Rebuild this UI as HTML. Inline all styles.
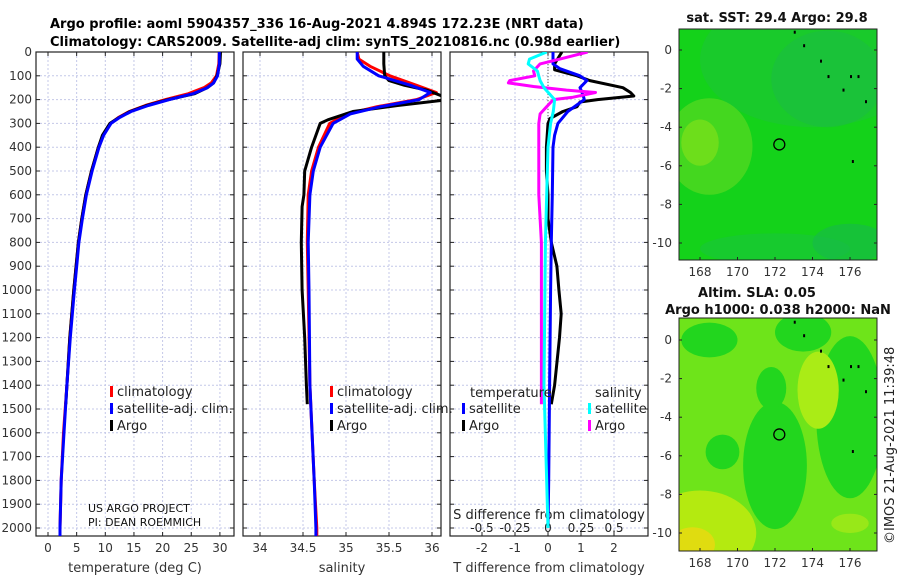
<!DOCTYPE html>
<html><head><meta charset="utf-8"><style>
body{margin:0;background:#fff;width:900px;height:580px;overflow:hidden}
svg text{font-family:"DejaVu Sans","Liberation Sans",sans-serif}
</style></head><body>
<svg id="fig" width="900" height="580" xmlns="http://www.w3.org/2000/svg">
<text x="50" y="28" font-size="13" font-weight="bold">Argo profile: aoml 5904357_336 16-Aug-2021 4.894S 172.23E (NRT data)</text>
<text x="50" y="46" font-size="13" font-weight="bold">Climatology: CARS2009. Satellite-adj clim: synTS_20210816.nc (0.98d earlier)</text>
<g id="maps"></g>
<g id="panels"></g>
</svg>
<script>
// depth grid
const depthTicks=[0,100,200,300,400,500,600,700,800,900,1000,1100,1200,1300,1400,1500,1600,1700,1800,1900,2000];
// temperature
const tDepth=[0,50,100,130,150,175,200,225,250,275,300,350,400,500,600,700,800,900,1000,1200,1400,1600,1800,2000,2050];
const tClim=[29.9,29.8,29.4,28.5,27.2,24.5,20.5,17.0,14.2,12.3,10.9,9.6,8.8,7.6,6.6,5.9,5.3,4.9,4.5,3.8,3.3,2.7,2.3,2.1,2.1];
const tSat=[29.9,29.9,29.6,28.9,27.8,25.3,21.2,17.5,14.5,12.5,11.0,9.7,8.9,7.7,6.7,6.0,5.4,5.0,4.6,3.9,3.3,2.8,2.3,2.1,2.1];
const tArgoDepth=[0,50,100,130,150,175,200,225,250,275,300,350,400,500,600,700,800,900,1000,1200,1400,1480];
const tArgo=[30.1,30.0,29.5,28.9,27.8,25.6,21.0,17.2,14.3,12.4,10.8,9.5,8.8,7.6,6.6,5.9,5.3,4.9,4.5,3.8,3.3,3.1];
// salinity
const sDepth=[0,30,60,100,140,170,200,230,260,300,400,500,600,800,1000,1400,1800,2000,2050];
const sClim=[35.13,35.15,35.28,35.51,35.82,36.05,35.82,35.36,35.01,34.81,34.68,34.60,34.56,34.55,34.56,34.58,34.63,34.66,34.66];
const sSat=[35.13,35.13,35.2,35.38,35.75,35.98,35.85,35.4,35.05,34.85,34.70,34.62,34.58,34.56,34.57,34.58,34.63,34.65,34.65];
const sArgoDepth=[0,50,100,120,140,160,190,200,225,250,285,300,400,500,600,650,800,1000,1200,1400,1480];
const sArgo=[35.44,35.44,35.45,35.5,35.68,35.94,36.15,36.2,35.6,35.08,34.79,34.7,34.6,34.52,34.51,34.49,34.48,34.49,34.52,34.54,34.55];
// differences
const dTArgoDepth=[0,50,75,100,120,150,170,185,200,210,230,250,280,300,400,500,600,700,800,900,1000,1100,1200,1400,1480];
const dTArgo=[0.42,0.2,0.2,0.88,1.27,2.27,2.5,2.6,1.5,0.97,0.88,0.45,0.06,0.0,-0.05,-0.05,0.0,0.0,0.1,0.27,0.33,0.4,0.35,0.2,0.1];
const dTSatDepth=[0,50,70,100,120,150,180,200,250,300,350,400,600,800,1000,1400,1800,2000];
const dTSat=[0.15,0.15,0.36,0.97,1.18,0.97,1.06,1.1,0.6,0.3,0.2,0.15,0.13,0.1,0.08,0.05,0.02,0.0];
const dSSatDepth=[0,30,50,80,120,150,200,250,300,400,800,1400,2000];
const dSSat=[-0.01,-0.14,-0.15,-0.08,-0.06,-0.03,0.05,0.04,0.02,0.0,-0.02,-0.03,0.0];
const dSArgoDepth=[0,30,50,80,100,120,130,145,160,170,190,200,230,260,300,400,600,800,1000,1400,1480];
const dSArgo=[0.3,0.09,-0.06,-0.11,-0.1,-0.29,-0.3,-0.11,0.14,0.36,0.19,0.04,-0.01,-0.06,-0.07,-0.07,-0.07,-0.05,-0.05,-0.05,-0.05];
const tTicks=[0,5,10,15,20,25,30];
const sTicks=[34,34.5,35,35.5,36];
const dTTicks=[-2,-1,0,1,2];
const dSTicks=[-0.5,-0.25,0,0.25,0.5];
const dSTickLabels=["-0.5","-0.25","0","0.25","0.5"];
const lonTicks=[168,170,172,174,176];
const latTicks=[0,-2,-4,-6,-8,-10];
const argoLon=[172.23];
const argoLat=[-4.894];

const NS="http://www.w3.org/2000/svg";
const P=document.getElementById('panels');
function el(tag,at,parent){const e=document.createElementNS(NS,tag);for(const k in at)e.setAttribute(k,at[k]);(parent||P).appendChild(e);return e;}
const Y0=52,Y1=536;
const yD=d=>52+d*0.238;
function txt(s,x,y,opt,name,parent){const t=el('text',Object.assign({x:x,y:y,'font-size':12,fill:'#333'},opt||{}),parent);t.textContent=s;


return t;}
function panel(x0,name,xs,ticks,labels,xlab){
  const g=el('g',{});
  
  
  ticks.forEach((v,i)=>{const x=xs(v);el('line',{x1:x,x2:x,y1:Y0,y2:Y1,stroke:'#c4c8e8','stroke-dasharray':'2,2'},g);el('line',{x1:x,x2:x,y1:Y1,y2:Y1-4,stroke:'#222'},g);el('line',{x1:x,x2:x,y1:Y0,y2:Y0+4,stroke:'#222'},g);
    if(labels)txt(labels[i],x,552,{'text-anchor':'middle'},'x-tick-label',g);});
  depthTicks.forEach(d=>{const y=yD(d);el('line',{x1:x0,x2:x0+198,y1:y,y2:y,stroke:'#c4c8e8','stroke-dasharray':'2,2'},g);el('line',{x1:x0,x2:x0+4,y1:y,y2:y,stroke:'#222'},g);el('line',{x1:x0+194,x2:x0+198,y1:y,y2:y,stroke:'#222'},g);});
  el('rect',{x:x0,y:Y0,width:198,height:Y1-Y0,fill:'none',stroke:'#222','stroke-width':1.2},g);
  if(xlab)txt(xlab,x0+99,572,{'text-anchor':'middle','font-size':13},'x-axis-title',g);
  return g;
}
function line(g,xs,vals,depths,color,w,name){
  const pts=vals.map((v,i)=>xs(v).toFixed(1)+','+yD(depths[i]).toFixed(1)).join(' ');
  const l=el('polyline',{points:pts,fill:'none',stroke:color,'stroke-width':w,'stroke-linejoin':'round'},g);
  
  
}
function clipFor(x0,id){const c=el('clipPath',{id:id});el('rect',{x:x0,y:Y0,width:198,height:Y1-Y0},c);return 'url(#'+id+')';}
depthTicks.forEach(d=>txt(String(d),32,yD(d)+4,{'text-anchor':'end'},'y-tick-label'));
const xT=v=>48+v*5.73;
const g1=panel(36,'temperature-panel',xT,tTicks,tTicks.map(String),'temperature (deg C)');
const c1=el('g',{'clip-path':clipFor(36,'c1')},g1);
line(c1,xT,tClim,tDepth,'#f00',3,'temperature-climatology-line');
line(c1,xT,tArgo,tArgoDepth,'#000',3,'temperature-argo-line');
line(c1,xT,tSat,tDepth,'#00f',3,'temperature-satellite-line');
function legend(g,x,y,items){items.forEach((it,i)=>{el('rect',{x:x,y:y+i*17-10,width:3,height:11,fill:it[1]},g);txt(it[0],x+7,y+i*17,{'font-size':13,fill:'#222'},'legend-entry',g);});}
legend(g1,110,396,[['climatology','#f00'],['satellite-adj. clim.','#00f'],['Argo','#000']]);
txt('US ARGO PROJECT',88,512,{'font-size':11,fill:'#111'},'credit-project',g1);
txt('PI: DEAN ROEMMICH',88,526,{'font-size':11,fill:'#111'},'credit-pi',g1);
const xS=v=>260+(v-34)*86;
const g2=panel(243,'salinity-panel',xS,sTicks,sTicks.map(String),'salinity');
const c2=el('g',{'clip-path':clipFor(243,'c2')},g2);
line(c2,xS,sClim,sDepth,'#f00',3,'salinity-climatology-line');
line(c2,xS,sArgo,sArgoDepth,'#000',3,'salinity-argo-line');
line(c2,xS,sSat,sDepth,'#00f',3,'salinity-satellite-line');
legend(g2,330,396,[['climatology','#f00'],['satellite-adj. clim.','#00f'],['Argo','#000']]);
const xDT=v=>548+v*33;
const xDS=v=>548+v*132;
const g3=panel(450,'difference-panel',xDT,dTTicks,dTTicks.map(String),'T difference from climatology');
dSTicks.forEach((v,i)=>txt(dSTickLabels[i],xDS(v),532,{'text-anchor':'middle','font-size':12,fill:'#222'},'s-tick-label',g3));
txt('S difference from climatology',549,519,{'text-anchor':'middle','font-size':13,fill:'#222'},'s-axis-title',g3);
el('line',{x1:548,x2:548,y1:Y0,y2:120,stroke:'#555','stroke-dasharray':'1,2'},g3);
const c3=el('g',{'clip-path':clipFor(450,'c3')},g3);
line(c3,xDT,dTArgo,dTArgoDepth,'#000',3,'t-diff-argo-line');
line(c3,xDT,dTSat,dTSatDepth,'#00f',3,'t-diff-satellite-line');
line(c3,xDS,dSArgo,dSArgoDepth,'#f0f',3,'s-diff-argo-line');
line(c3,xDS,dSSat,dSSatDepth,'#0ff',3,'s-diff-satellite-line');
txt('temperature',470,397,{'font-size':13,fill:'#222'},'legend-header-temperature',g3);
txt('salinity',595,397,{'font-size':13,fill:'#222'},'legend-header-salinity',g3);
legend(g3,462,413,[['satellite','#00f'],['Argo','#000']]);
legend(g3,588,413,[['satellite','#0ff'],['Argo','#f0f']]);

const M=document.getElementById('maps');
function map(y0,y1,lat0y,lat10y,name,base,blobs){
  const g=el('g',{},M);
  
  
  const xL=v=>700+(v-168)*18.75;
  const yL=v=>lat0y+(-v)*(lat10y-lat0y)/10;
  const cid=name+'-clip';const c=el('clipPath',{id:cid},g);el('rect',{x:679,y:y0,width:198,height:y1-y0},c);
  const gi=el('g',{'clip-path':'url(#'+cid+')'},g);
  el('rect',{x:679,y:y0,width:198,height:y1-y0,fill:base},gi);
  blobs.forEach(b=>el('ellipse',{cx:xL(b[0]),cy:yL(b[1]),rx:b[2]*18.75,ry:b[3]*19.3,fill:b[4],opacity:b[5]||1},gi));
  [[173,1],[173.5,0.3],[174.4,-0.5],[174.8,-1.3],[175.6,-2],[176,-1.3],[176.4,-1.3],[176.8,-2.6],[176.1,-5.7]].forEach(p=>el('rect',{x:xL(p[0]),y:yL(p[1]),width:2,height:3,fill:'#000'},gi));
  el('rect',{x:679,y:y0,width:198,height:y1-y0,fill:'none',stroke:'#222'},g);
  lonTicks.forEach(v=>{el('line',{x1:xL(v),x2:xL(v),y1:y1,y2:y1-3,stroke:'#222'},g);txt(String(v),xL(v),y1+16,{'text-anchor':'middle'},'lon-tick-label',g);});
  latTicks.forEach(v=>{el('line',{x1:679,x2:682,y1:yL(v),y2:yL(v),stroke:'#222'},g);el('line',{x1:874,x2:877,y1:yL(v),y2:yL(v),stroke:'#222'},g);txt(String(v),672,yL(v)+4,{'text-anchor':'end'},'lat-tick-label',g);});
  const m=el('circle',{cx:xL(argoLon[0]),cy:yL(argoLat[0]),r:5.5,fill:'none',stroke:'#000','stroke-width':1.3},g);
  
  
}
map(29,260,50,243,'sst-map','#14d21a',[[174,-0.5,6,3.5,'#1ec040',0.45],[174.8,-1.5,3,2.5,'#1cba48',0.5],[168.5,-5,2.3,2.5,'#50d820',0.8],[168,-4.8,1,1.2,'#78e01a',0.8],[172,-10.3,4,0.8,'#19c43c',0.6],[176,-10,2,1,'#18b84c',0.6]]);
map(318,551,340,533,'sla-map','#6ee41a',[[168,-10,3,2.2,'#b4ea10'],[167.6,-10.6,1.2,0.9,'#e0dc10'],[172,-6.5,1.7,3.3,'#22d61e'],[176,-4,1.8,4.2,'#22d61e'],[174.3,-2.6,1.1,2,'#aaec16'],[173.5,0.4,1.5,1,'#22d61e'],[168.5,0,1.5,0.9,'#22d61e'],[169.2,-5.8,0.9,0.9,'#22d61e'],[171.8,-2.5,0.8,1.1,'#22d61e'],[176,-9.5,1,0.5,'#98e818']]);
txt('sat. SST: 29.4 Argo: 29.8',777,22,{'text-anchor':'middle','font-size':13,'font-weight':'bold',fill:'#111'},'sst-map-title',M);
txt('Altim. SLA: 0.05',757,297,{'text-anchor':'middle','font-size':13,'font-weight':'bold',fill:'#111'},'sla-map-title-1',M);
txt('Argo h1000: 0.038 h2000: NaN',778,314,{'text-anchor':'middle','font-size':13,'font-weight':'bold',fill:'#111'},'sla-map-title-2',M);
txt('©IMOS 21-Aug-2021 11:39:48',0,0,{transform:'translate(894,544) rotate(-90)','font-size':13,fill:'#222'},'timestamp',M);
</script>
</body></html>
